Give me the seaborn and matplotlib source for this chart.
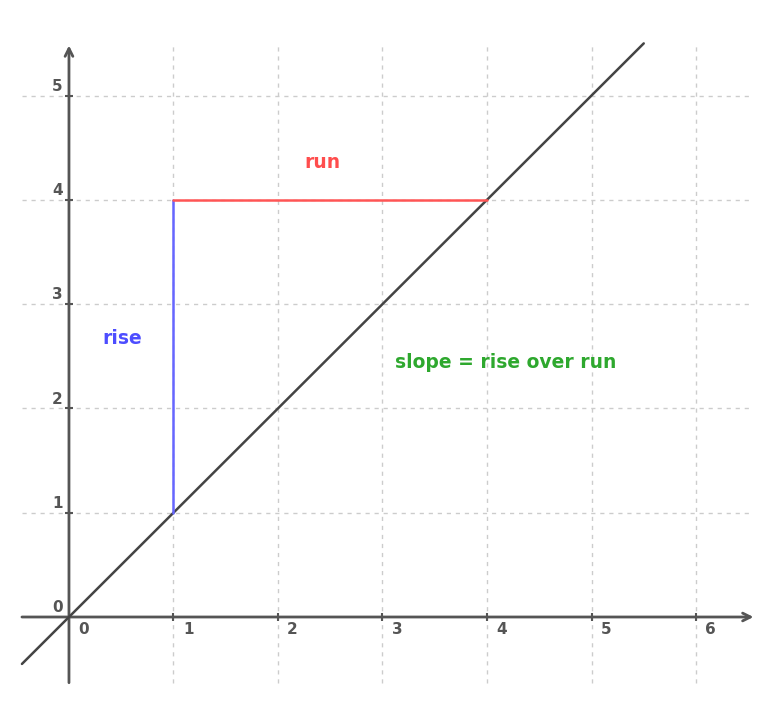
import numpy as np
import pandas as pd
import matplotlib
matplotlib.use("Agg")
import matplotlib.pyplot as plt
import seaborn as sns

# -----------------------------
# DATA
# -----------------------------
line_x = [-0.45, 5.5]                 # y = x line ends
line_y = [-0.45, 5.5]
rise_x = [1, 1]                       # vertical (blue) segment
rise_y = [1, 4]
run_x = [1, 4]                        # horizontal (red) segment
run_y = [4, 4]
x_ticks = [0, 1, 2, 3, 4, 5, 6]
y_ticks = [0, 1, 2, 3, 4, 5]
x_range = [-0.45, 6.55]
y_range = [-0.63, 5.48]
labels = ["run", "rise", "slope = rise over run"]
label_pos = [(2.43, 4.36), (0.51, 2.67), (4.18, 2.44)]
label_colors = ["#ff4d4d", "#4d4dff", "#2ea82e"]

# -----------------------------
# STYLE
# -----------------------------
sns.set_theme(style="white")
plt.rcParams["font.family"] = ["DejaVu Sans"]

fig = plt.figure(figsize=(7.84, 7.08), dpi=100)
ax = fig.add_axes([0, 0, 1, 1])
ax.set_xlim(-0.660, 6.842)
ax.set_ylim(-0.8725, 5.916)
ax.axis("off")

grid_col = "#cccccc"
axis_col = "#555555"

# grid
ax.vlines(x_ticks[1:], y_range[0], y_range[1], colors=grid_col,
          linestyles=(0, (3, 3.5)), linewidth=1, zorder=1)
ax.hlines(y_ticks[1:], x_range[0], x_range[1], colors=grid_col,
          linestyles=(0, (3, 3.5)), linewidth=1, zorder=1)

# axes with arrows
ax.annotate("", xy=(x_range[1], 0), xytext=(x_range[0], 0),
            arrowprops=dict(arrowstyle="->", color=axis_col, lw=2,
                            mutation_scale=14, shrinkA=0, shrinkB=0), zorder=2)
ax.annotate("", xy=(0, y_range[1]), xytext=(0, y_range[0]),
            arrowprops=dict(arrowstyle="->", color=axis_col, lw=2,
                            mutation_scale=14, shrinkA=0, shrinkB=0), zorder=2)

# tick marks
ax.scatter(x_ticks[1:], [0] * len(x_ticks[1:]), marker="|", s=30,
           color=axis_col, linewidths=1.5, zorder=3)
ax.scatter([0] * len(y_ticks[1:]), y_ticks[1:], marker="_", s=30,
           color=axis_col, linewidths=1.5, zorder=3)

# tick labels
for t in x_ticks:
    ax.text(t + 0.14, -0.12, str(t), ha="center", va="center",
            fontsize=11, fontweight="bold", color=axis_col)
for t in y_ticks:
    ax.text(-0.11, t + 0.09, str(t), ha="center", va="center",
            fontsize=11, fontweight="bold", color=axis_col)

# lines
sns.lineplot(x=line_x, y=line_y, ax=ax, color="#444444", linewidth=1.8,
             sort=False, zorder=4)
sns.lineplot(x=rise_x, y=rise_y, ax=ax, color="#6666ff", linewidth=1.8,
             sort=False, zorder=4, orient="y")
sns.lineplot(x=run_x, y=run_y, ax=ax, color="#ff5555", linewidth=1.8,
             sort=False, zorder=4)

# labels
for txt, (px, py), c in zip(labels, label_pos, label_colors):
    ax.text(px, py, txt, ha="center", va="center", fontsize=13.5,
            fontweight="bold", color=c)

fig.savefig("out.png", dpi=100, facecolor="white")
